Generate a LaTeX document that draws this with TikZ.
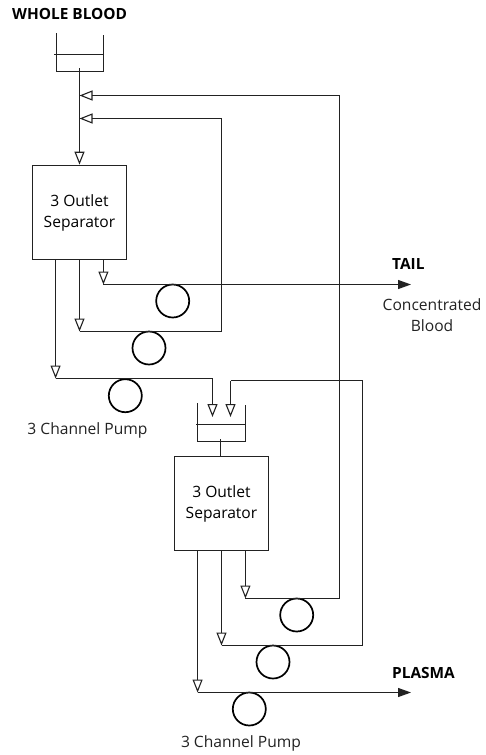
\documentclass[tikz,border=0pt]{standalone}
\usepackage{fontspec}
\setmainfont{Open Sans}
\usetikzlibrary{positioning,arrows.meta,calc}
\definecolor{ink}{HTML}{222222}
\tikzset{
  sepbox/.style={draw=ink,line width=1.2pt,minimum width=94.5pt,minimum height=94.5pt,inner sep=0pt,align=center,font=\fontsize{15.6}{21}\selectfont},
  pumpwheel/.style={circle,draw=black,line width=1.7pt,minimum size=33pt,inner sep=0pt},
  pipe/.style={draw=ink,line width=1.2pt},
  flow/.style={pipe,-{Triangle[open,length=13pt,width=10pt,line width=1.1pt]}},
  outflow/.style={pipe,-{Triangle[length=13pt,width=9pt]}},
  lbl/.style={font=\fontsize{15.6}{21}\selectfont,text=ink,align=center,inner sep=0pt},
  head/.style={font=\fontsize{15.4}{16}\selectfont\bfseries,text=black,inner sep=0pt}}
\begin{document}
\begin{tikzpicture}[x=1pt,y=-1pt]
  \useasboundingbox (0,0) rectangle (485,755);
  % separators and reservoirs
  \node[sepbox] (sepa) at (79.5,212.5) {3 Outlet\\Separator};
  \node[sepbox] (sepb) at (221.5,503.5) {3 Outlet\\Separator};
  \draw[pipe] (56.5,33) -- (56.5,71.5) -- (103.5,71.5) -- (103.5,35);
  \draw[pipe] (54,54.5) -- (103.5,54.5);
  \draw[pipe] (197.5,403) -- (197.5,441.5) -- (245.5,441.5) -- (245.5,405);
  \draw[pipe] (196,424.5) -- (245.5,424.5);
  \coordinate (resa) at (79.5,68);
  \coordinate (resb) at (220.5,439);
  \coordinate (ina) at (212.5,417);
  \coordinate (inb) at (230.5,417);
  % outlets
  \coordinate (a1) at ($(sepa.south west)!.25!(sepa.south east)$);
  \coordinate (a2) at ($(sepa.south west)!.5!(sepa.south east)$);
  \coordinate (a3) at ($(sepa.south west)!.75!(sepa.south east)$);
  \coordinate (b1) at ($(sepb.south west)!.25!(sepb.south east)$);
  \coordinate (b2) at ($(sepb.south west)!.5!(sepb.south east)$);
  \coordinate (b3) at ($(sepb.south west)!.75!(sepb.south east)$);
  \coordinate (ta1) at (a1 |- 0,378.5);
  \coordinate (ta2) at (a2 |- 0,331.5);
  \coordinate (ta3) at (a3 |- 0,284.5);
  \coordinate (tb1) at (b1 |- 0,692.5);
  \coordinate (tb2) at (b2 |- 0,645.5);
  \coordinate (tb3) at (b3 |- 0,598.5);
  \coordinate (joina) at (a2 |- 0,95.5);
  \coordinate (joinb) at (a2 |- 0,118.5);
  % pump wheels
  \node[pumpwheel] (pa3) at (172.7,301) {};
  \node[pumpwheel] (pa2) at (149,348) {};
  \node[pumpwheel] (pa1) at (125.3,395.7) {};
  \node[pumpwheel] (pb3) at (296.7,615) {};
  \node[pumpwheel] (pb2) at (273,662) {};
  \node[pumpwheel] (pb1) at (249.3,709) {};
  % labels
  \node[head,anchor=west] (whole) at (12,14) {WHOLE BLOOD};
  \node[head,anchor=west] (tail) at (392,264) {TAIL};
  \node[head,anchor=west] (plasma) at (392,673) {PLASMA};
  \node[lbl] (conc) at (432,315.5) {Concentrated\\Blood};
  \node[lbl] (chana) at (87.5,430) {3 Channel Pump};
  \node[lbl] (chanb) at (241,743) {3 Channel Pump};
  % feed
  \draw[flow] (resa) -- (sepa.north);
  \draw[pipe] (sepb.north -| resb) -- (resb);
  % first separator
  \draw[flow] (a3) -- (ta3);
  \draw[outflow] (ta3) -- (411,284.5);
  \draw[flow] (a2) -- (ta2);
  \draw[pipe] (ta2) -- (221.5,331.5) -- (221.5,118.5);
  \draw[flow] (221.5,118.5) -- (joinb);
  \draw[flow] (a1) -- (ta1);
  \draw[pipe] (ta1) -- (212.5,378.5);
  \draw[flow] (212.5,378.5) -- (ina);
  % second separator
  \draw[flow] (b3) -- (tb3);
  \draw[pipe] (tb3) -- (339.5,598.5) -- (339.5,95.5);
  \draw[flow] (339.5,95.5) -- (joina);
  \draw[flow] (b2) -- (tb2);
  \draw[pipe] (tb2) -- (362.5,645.5) -- (362.5,380.5) -- (230.5,380.5);
  \draw[flow] (230.5,380.5) -- (inb);
  \draw[flow] (b1) -- (tb1);
  \draw[outflow] (tb1) -- (411,692.5);
\end{tikzpicture}
\end{document}
